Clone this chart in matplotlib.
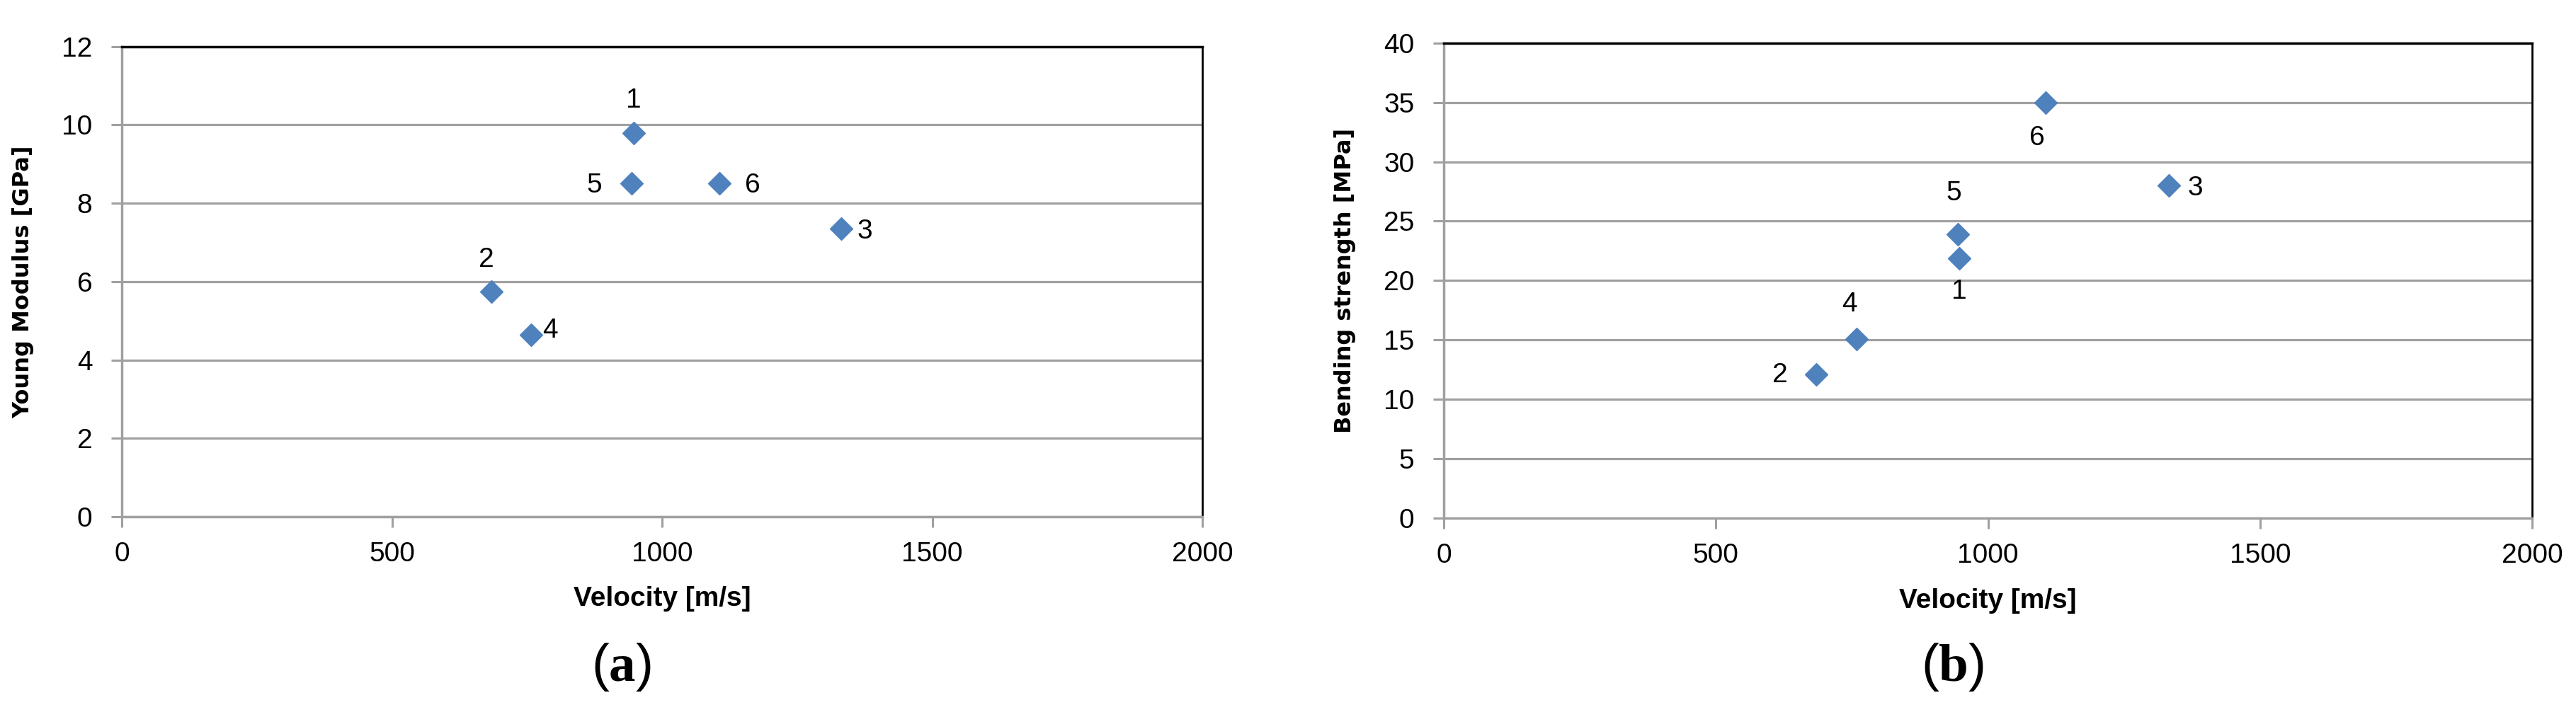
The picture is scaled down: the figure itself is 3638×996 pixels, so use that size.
import matplotlib.pyplot as plt

# sample numbers, shared velocity
samples = ['1', '2', '3', '4', '5', '6']
velocity = [947, 684, 1332, 758, 944, 1106]
young_modulus = [9.8, 5.75, 7.35, 4.65, 8.5, 8.5]
bending_strength = [21.9, 12.1, 28.0, 15.1, 23.9, 35.0]

# label offsets (points) per sample, left then right panel
offsets_a = [(0, 33), (-5, 32), (24, -3), (19, 4), (-38, -2), (34, -2)]
offsets_b = [(0, -34), (-37, -1), (27, -3), (-7, 35), (-4, 42), (-9, -36)]

plt.rcParams['font.family'] = ['Liberation Sans', 'DejaVu Sans']
plt.rcParams['mathtext.fontset'] = 'custom'
plt.rcParams['mathtext.rm'] = 'Liberation Serif'
plt.rcParams['mathtext.bf'] = 'Liberation Serif:bold'

blue = '#4F81BD'
grey = '#A0A0A0'

fig = plt.figure(figsize=(36.38, 9.96), dpi=100)
ax1 = fig.add_axes([0.0473, 0.267, 0.4195, 0.667])
ax2 = fig.add_axes([0.5605, 0.265, 0.4225, 0.674])


def style_axes(ax, ymax, ystep, ylabel, offsets, yvals):
    ax.set_xlim(0, 2000)
    ax.set_ylim(0, ymax)
    ax.set_xticks(range(0, 2001, 500))
    ax.set_yticks(range(0, ymax + 1, ystep))
    ax.yaxis.grid(True, color=grey, linewidth=2.3)
    ax.set_axisbelow(True)
    for side in ['left', 'bottom']:
        ax.spines[side].set_color(grey)
        ax.spines[side].set_linewidth(2.5)
    ax.spines['top'].set_color('black')
    ax.spines['top'].set_linewidth(2.5)
    ax.spines['right'].set_color('black')
    ax.spines['right'].set_linewidth(2.0)
    ax.tick_params(axis='y', direction='out', length=11, width=2.2, color=grey,
                   labelsize=28, pad=19)
    ax.tick_params(axis='x', direction='out', length=11, width=2.2, color=grey,
                   labelsize=28, pad=14)
    ax.set_ylabel(ylabel, family='DejaVu Sans', fontweight='bold', fontsize=23)
    ax.yaxis.set_label_coords(-0.081, 0.5)
    ax.set_xlabel('Velocity [m/s]', fontweight='bold', fontsize=28)
    ax.xaxis.set_label_coords(0.5, -0.148)

    ax.plot(velocity, yvals, linestyle='none', marker='D', markersize=16.5,
            color=blue, clip_on=False)
    for s, x, y, off in zip(samples, velocity, yvals, offsets):
        ax.annotate(s, (x, y), xytext=off, textcoords='offset points',
                    ha='center', va='center', fontsize=28)


style_axes(ax1, 12, 2, 'Young Modulus [GPa]', offsets_a, young_modulus)
style_axes(ax2, 40, 5, 'Bending strength [MPa]', offsets_b, bending_strength)

fig.text(0.2413, 0.054, r'($\mathbf{a}$)', ha='center', va='center', fontsize=54)
fig.text(0.758, 0.054, r'($\mathbf{b}$)', ha='center', va='center', fontsize=54)

plt.savefig('out.png', dpi=100)
